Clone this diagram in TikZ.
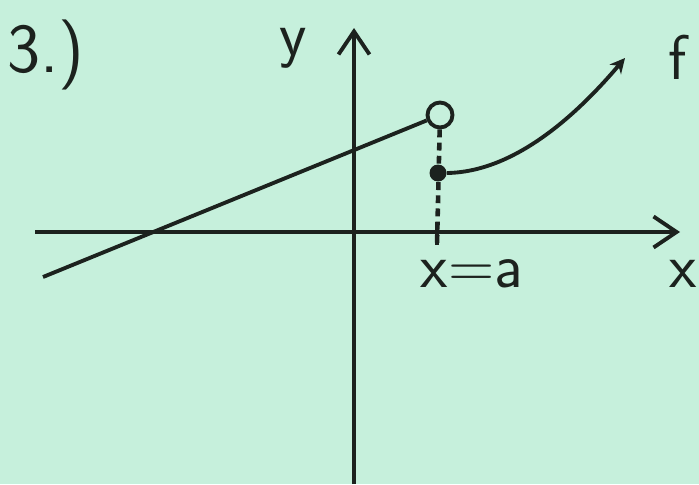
\documentclass[tikz,border=0pt]{standalone}
\usepackage{tikz}
\usetikzlibrary{arrows.meta}

\definecolor{paper}{RGB}{198,240,220}
\definecolor{ink}{RGB}{28,34,30}

\begin{document}
\begin{tikzpicture}[
    x=0.02cm, y=-0.02cm,
    axis/.style={line width=2.2pt, draw=ink, -{Straight Barb[length=0.46cm, width=0.62cm, line width=2.2pt]}},
    graph/.style={line width=2.2pt, draw=ink},
    drop/.style={line width=2.6pt, draw=ink, dash pattern=on 4.5pt off 3pt},
    hole/.style={circle, draw=ink, line width=2.2pt, fill=paper, minimum size=0.5cm, inner sep=0pt},
    dot/.style={circle, fill=ink, minimum size=0.34cm, inner sep=0pt},
    label/.style={text=ink, inner sep=0pt, font=\sffamily\fontsize{36}{42}\selectfont}
]

% Background
\fill[paper] (0,0) rectangle (699,484);
\useasboundingbox (0,0) rectangle (699,484);

% Points
\coordinate (xstart) at (35,232);
\coordinate (xend) at (680,232);
\coordinate (ystart) at (354,484);
\coordinate (yend) at (354,28);
\coordinate (left) at (43,277);
\coordinate (ticktop) at (437,222);
\coordinate (tickbot) at (437,245);
\coordinate (ftip) at (625,58);

% Axes
\draw [axis] (xstart) -- (xend);
\draw [axis] (ystart) -- (yend);
\draw [graph] (ticktop) -- (tickbot);

% Graph of f
\node (jump) [hole] at (440,115) {};
\node (value) [dot] at (438,173) {};
\draw [drop] (jump) -- (tickbot);
\draw [graph] (left) -- (jump);
\draw [graph, -{Stealth[length=0.3cm, width=0.3cm]}] (value.east) .. controls (520,172) and (585,105) .. (ftip);

% Labels
\node (num) [label, font=\sffamily\fontsize{40}{46}\selectfont] at (46,55) {3.)};
\node (ylab) [label] at (293,48) {y};
\node (flab) [label] at (678,57) {f};
\node (alab) [label] at (472,274) {x=a};
\node (xlab) [label] at (683,274) {x};

\end{tikzpicture}
\end{document}
